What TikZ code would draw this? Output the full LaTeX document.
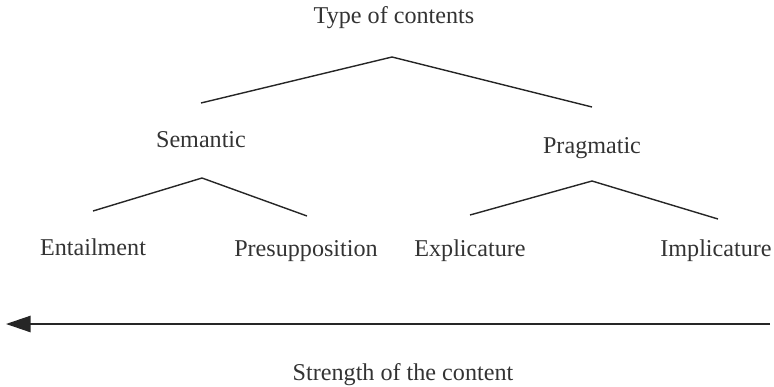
\documentclass[tikz,border=0pt]{standalone}
\usepackage{fontspec}
\setmainfont{Liberation Serif}
\usetikzlibrary{arrows.meta}

\begin{document}
\begin{tikzpicture}[
    x=0.03cm, y=-0.03cm,
    label/.style={font=\fontsize{20.6}{22}\selectfont, text=black!80, inner sep=0pt},
    branch/.style={draw=black!85, line width=1.2pt},
    scale arrow/.style={draw=black!85, line width=1.2pt, -{Triangle[length=21pt, width=14pt]}}
]
    \useasboundingbox (0,0) rectangle (774,387);

    % Labels
    \node[label] (root) at (394,18) {Type of contents};
    \node[label] (sem) at (201,140) {Semantic};
    \node[label] (prag) at (592,148) {Pragmatic};
    \node[label] (ent) at (93,247) {Entailment};
    \node[label] (pres) at (306,251) {Presupposition};
    \node[label] (expl) at (470,251) {Explicature};
    \node[label] (impl) at (716,251) {Implicature};
    \node[label] (strength) at (403,375) {Strength of the content};

    % Branch points
    \coordinate (root top) at (392,57);
    \coordinate (root l) at (201,103);
    \coordinate (root r) at (592,107);
    \coordinate (sem top) at (202,178);
    \coordinate (sem l) at (93,211);
    \coordinate (sem r) at (307,216);
    \coordinate (prag top) at (592,181);
    \coordinate (prag l) at (470,215);
    \coordinate (prag r) at (718,219);
    \coordinate (arr start) at (770,324);
    \coordinate (arr end) at (6,324);

    % Branches
    \draw[branch] (root l) -- (root top) -- (root r);
    \draw[branch] (sem l) -- (sem top) -- (sem r);
    \draw[branch] (prag l) -- (prag top) -- (prag r);

    % Scale
    \draw[scale arrow] (arr start) -- (arr end);
\end{tikzpicture}
\end{document}
